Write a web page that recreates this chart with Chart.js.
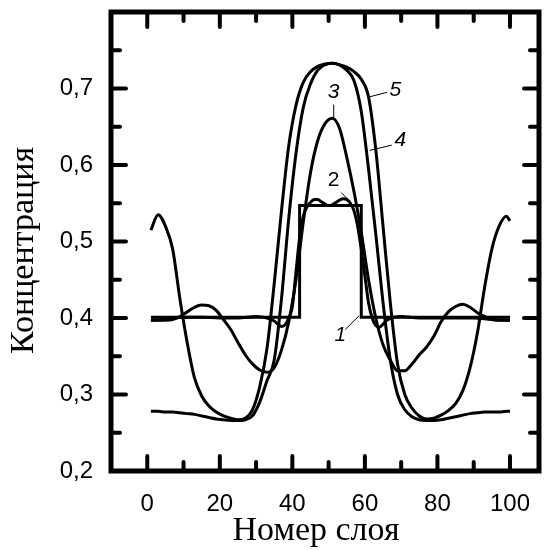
<!DOCTYPE html>
<html lang="ru">
<head>
  <meta charset="UTF-8">
  <title>Концентрация по слоям</title>
  <style>
    html, body {
      margin: 0;
      padding: 0;
      background: #fff;
    }
    .wrap {
      width: 546px;
      height: 550px;
    }
  </style>
</head>
<body>

  <div class="wrap">
    <canvas id="concChart" width="546" height="550"></canvas>
  </div>

  <script src="https://cdn.jsdelivr.net/npm/chart.js"></script>

  <script>
    // Номера слоёв и значения концентрации
    const stepLayers  = [1, 42, 42, 59, 59, 100];
    const stepConc    = [0.401, 0.401, 0.547, 0.547, 0.401, 0.401];

    const curve2Layers = [1, 5, 10, 15, 20, 25, 30, 33, 35, 36, 37, 38, 39, 40, 41, 42, 43, 44, 45, 46, 47, 48, 49, 50,
                          51, 52, 53, 54, 55, 56, 57, 58, 59, 60, 61, 62, 63, 64, 65, 66, 68, 70, 75, 80, 85, 90, 95, 100];
    const curve2Conc   = [0.397, 0.398, 0.401, 0.401, 0.400, 0.400, 0.402, 0.400, 0.396, 0.392, 0.389, 0.391, 0.400, 0.415,
                          0.460, 0.505, 0.533, 0.545, 0.551, 0.555, 0.555, 0.552, 0.549, 0.547, 0.548, 0.551, 0.554, 0.556,
                          0.555, 0.550, 0.540, 0.520, 0.490, 0.455, 0.420, 0.400, 0.390, 0.388, 0.392, 0.397, 0.401, 0.402,
                          0.400, 0.400, 0.400, 0.400, 0.398, 0.397];

    // общие номера слоёв для кривых 3, 4, 5
    const layers = [1, 3, 5, 7, 9, 11, 13, 15, 17, 19, 21, 23, 25, 27, 29, 31, 33, 35, 37, 39, 41, 43, 45, 47, 49,
                    51, 53, 55, 57, 59, 61, 63, 65, 67, 69, 71, 73, 75, 77, 79, 81, 83, 85, 87, 89, 91, 93, 95, 97, 99, 100];

    const curve3Conc = [0.397, 0.397, 0.397, 0.398, 0.402, 0.408, 0.414, 0.417, 0.416, 0.410, 0.398, 0.385, 0.368,
                        0.352, 0.340, 0.332, 0.329, 0.335, 0.358, 0.395, 0.450, 0.525, 0.590, 0.632, 0.654, 0.661,
                        0.648, 0.610, 0.565, 0.512, 0.450, 0.400, 0.365, 0.345, 0.331, 0.331, 0.340, 0.352, 0.362,
                        0.376, 0.395, 0.408, 0.415, 0.418, 0.414, 0.407, 0.402, 0.398, 0.397, 0.397, 0.397];

    const curve4Conc = [0.278, 0.278, 0.277, 0.277, 0.276, 0.275, 0.274, 0.272, 0.270, 0.268, 0.267, 0.266, 0.266,
                        0.267, 0.272, 0.290, 0.318, 0.345, 0.425, 0.530, 0.615, 0.675, 0.706, 0.724, 0.731, 0.733,
                        0.731, 0.724, 0.710, 0.670, 0.595, 0.510, 0.420, 0.345, 0.300, 0.280, 0.271, 0.267, 0.266,
                        0.266, 0.267, 0.269, 0.271, 0.273, 0.275, 0.276, 0.277, 0.277, 0.277, 0.278, 0.278];

    const curve5Conc = [0.515, 0.535, 0.520, 0.490, 0.425, 0.368, 0.322, 0.298, 0.285, 0.277, 0.272, 0.269, 0.267,
                        0.269, 0.280, 0.310, 0.360, 0.445, 0.540, 0.625, 0.678, 0.708, 0.722, 0.729, 0.732, 0.733,
                        0.731, 0.728, 0.722, 0.712, 0.689, 0.620, 0.520, 0.420, 0.340, 0.300, 0.282, 0.272, 0.268,
                        0.269, 0.273, 0.279, 0.288, 0.305, 0.335, 0.380, 0.440, 0.490, 0.520, 0.533, 0.527];

    // подписи и деления осей
    const xTickLabels = [0, 20, 40, 60, 80, 100];
    const xMinorTicks = [10, 30, 50, 70, 90];
    const yTickLabels = [0.2, 0.3, 0.4, 0.5, 0.6, 0.7];
    const yMajorTicks = [0.3, 0.4, 0.5, 0.6, 0.7];
    const yMinorTicks = [0.25, 0.35, 0.45, 0.55, 0.65, 0.75];
    const xTitle = 'Номер слоя';
    const yTitle = 'Концентрация';

    function toPoints(xs, ys) {
      return xs.map((v, i) => ({ x: v, y: ys[i] }));
    }

    // номера кривых с выносками (в единицах данных)
    const curveNotes = [
      { text: '1', italic: true,  at: [53.2, 0.378], from: [54.6, 0.385], to: [58.4, 0.403] },
      { text: '2', italic: false, at: [51.4, 0.580], from: [53.5, 0.564], to: [55.7, 0.553] },
      { text: '3', italic: true,  at: [51.4, 0.695], from: [51.4, 0.679], to: [51.4, 0.662] },
      { text: '4', italic: true,  at: [69.8, 0.632], from: [67.4, 0.626], to: [61.3, 0.619] },
      { text: '5', italic: true,  at: [68.4, 0.698], from: [66.1, 0.695], to: [61.2, 0.689] }
    ];

    // рамка и внутренние деления со всех четырёх сторон
    const framePlugin = {
      id: 'frame',
      afterDatasetsDraw(chart) {
        const { ctx, chartArea: a, scales: { x, y } } = chart;
        ctx.save();
        ctx.strokeStyle = '#000';
        ctx.lineCap = 'round';
        ctx.lineWidth = 4;
        const seg = (x1, y1, x2, y2) => {
          ctx.beginPath();
          ctx.moveTo(x1, y1);
          ctx.lineTo(x2, y2);
          ctx.stroke();
        };
        xTickLabels.forEach(v => {
          const px = x.getPixelForValue(v);
          seg(px, a.bottom, px, a.bottom - 15);
          seg(px, a.top, px, a.top + 15);
        });
        xMinorTicks.forEach(v => {
          const px = x.getPixelForValue(v);
          seg(px, a.bottom, px, a.bottom - 9);
          seg(px, a.top, px, a.top + 9);
        });
        yMajorTicks.forEach(v => {
          const py = y.getPixelForValue(v);
          seg(a.left, py, a.left + 15, py);
          seg(a.right, py, a.right - 15, py);
        });
        yMinorTicks.forEach(v => {
          const py = y.getPixelForValue(v);
          seg(a.left, py, a.left + 9, py);
          seg(a.right, py, a.right - 9, py);
        });
        ctx.lineCap = 'butt';
        ctx.lineJoin = 'miter';
        ctx.lineWidth = 5;
        ctx.strokeRect(a.left, a.top, a.right - a.left, a.bottom - a.top);
        ctx.restore();
      }
    };

    const notesPlugin = {
      id: 'notes',
      afterDatasetsDraw(chart) {
        const { ctx, scales: { x, y } } = chart;
        ctx.save();
        ctx.fillStyle = '#000';
        ctx.strokeStyle = '#000';
        ctx.lineWidth = 1;
        ctx.textAlign = 'center';
        ctx.textBaseline = 'middle';
        curveNotes.forEach(n => {
          ctx.beginPath();
          ctx.moveTo(x.getPixelForValue(n.from[0]), y.getPixelForValue(n.from[1]));
          ctx.lineTo(x.getPixelForValue(n.to[0]), y.getPixelForValue(n.to[1]));
          ctx.stroke();
          ctx.font = (n.italic ? 'italic ' : '') + '21px "Liberation Sans", Arial, sans-serif';
          ctx.fillText(n.text, x.getPixelForValue(n.at[0]), y.getPixelForValue(n.at[1]));
        });
        ctx.restore();
      }
    };

    // подписи осей (серифный шрифт, как на исходном рисунке)
    const titlesPlugin = {
      id: 'titles',
      afterDraw(chart) {
        const { ctx, chartArea: a } = chart;
        ctx.save();
        ctx.fillStyle = '#000';
        ctx.font = '34px "Liberation Serif", "Times New Roman", serif';
        ctx.textAlign = 'center';
        ctx.textBaseline = 'middle';
        ctx.fillText(xTitle, (a.left + a.right) / 2 - 9, 531);
        ctx.translate(24, (a.top + a.bottom) / 2 + 9);
        ctx.rotate(-Math.PI / 2);
        ctx.fillText(yTitle, 0, 0);
        ctx.restore();
      }
    };

    const lineStyle = {
      showLine: true,
      borderColor: '#000',
      borderWidth: 3,
      pointRadius: 0,
      fill: false
    };

    const ctx = document.getElementById('concChart').getContext('2d');
    const chart = new Chart(ctx, {
      type: 'scatter',
      data: {
        datasets: [
          { label: '1', data: toPoints(stepLayers, stepConc), ...lineStyle, tension: 0 },
          { label: '2', data: toPoints(curve2Layers, curve2Conc), ...lineStyle, cubicInterpolationMode: 'monotone' },
          { label: '3', data: toPoints(layers, curve3Conc), ...lineStyle, cubicInterpolationMode: 'monotone' },
          { label: '4', data: toPoints(layers, curve4Conc), ...lineStyle, cubicInterpolationMode: 'monotone' },
          { label: '5', data: toPoints(layers, curve5Conc), ...lineStyle, cubicInterpolationMode: 'monotone' }
        ]
      },
      options: {
        responsive: false,
        animation: false,
        layout: { padding: { top: 12, right: 7, left: 0, bottom: 0 } },
        plugins: {
          legend: { display: false },
          tooltip: { enabled: false }
        },
        scales: {
          x: {
            type: 'linear',
            min: -10,
            max: 108,
            grid: { display: false, drawTicks: false },
            border: { display: false },
            afterBuildTicks: s => { s.ticks = xTickLabels.map(v => ({ value: v })); },
            afterFit: s => {
              s.height = 79;
              s.paddingLeft = 0;
              s.paddingRight = 0;
            },
            ticks: {
              color: '#000',
              padding: 19,
              maxRotation: 0,
              autoSkip: false,
              font: { family: '"Liberation Sans", Arial, sans-serif', size: 24 }
            },
            title: { display: false }
          },
          y: {
            type: 'linear',
            min: 0.2,
            max: 0.8,
            grid: { display: false, drawTicks: false },
            border: { display: false },
            afterBuildTicks: s => { s.ticks = yTickLabels.map(v => ({ value: v })); },
            afterFit: s => {
              s.width = 111;
              s.paddingTop = 0;
              s.paddingBottom = 0;
            },
            ticks: {
              color: '#000',
              padding: 18,
              autoSkip: false,
              font: { family: '"Liberation Sans", Arial, sans-serif', size: 24 },
              callback: v => v.toFixed(1).replace('.', ',')
            },
            title: { display: false }
          }
        }
      },
      plugins: [framePlugin, notesPlugin, titlesPlugin]
    });
  </script>

</body>
</html>
